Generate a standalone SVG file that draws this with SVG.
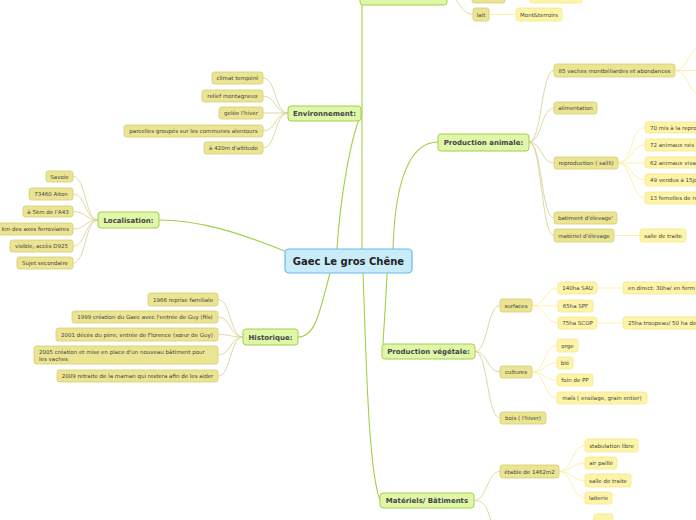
<svg xmlns="http://www.w3.org/2000/svg" width="696" height="520" viewBox="0 0 696 520">
<style>
text{font-family:"DejaVu Sans","Liberation Sans",sans-serif;fill:#444;}
.t2{font-size:5.5px;text-anchor:middle;}
.t2l{font-size:5.5px;}
.tm{font-size:7px;font-weight:bold;text-anchor:middle;}
.tc{font-size:10px;font-weight:bold;text-anchor:middle;fill:#222;}
.c{fill:#c9ecfb;stroke:#62bde9;stroke-width:1.2;}
.m{fill:#e0f7aa;stroke:#a2d048;stroke-width:1;}
.l2{fill:#ebe493;stroke:#d5cd72;stroke-width:0.8;}
.l3{fill:#fdf4a8;stroke:#f5e78c;stroke-width:0.8;}
.e1{fill:none;stroke:#a3cf45;stroke-width:1.1;}
.e2{fill:none;stroke:#d9d49c;stroke-width:0.9;}
.e3{fill:none;stroke:#faefa2;stroke-width:0.9;}
</style>
<g id="connectors">
<path class="e1" d="M337,249 C340,200 350,140 361,114"/>
<path class="e1" d="M362,249 C362,180 362,60 362,0"/>
<path class="e1" d="M393,249 C395,180 410,142 438,142"/>
<path class="e1" d="M287,252 C240,233 200,220 159,220"/>
<path class="e1" d="M330,273 C320,310 316,337 298,337"/>
<path class="e1" d="M387,273 C386,300 384,325 383,344"/>
<path class="e1" d="M363,273 C366,350 368,470 380,500"/>
<g class="e2">
<path d="M288,113 C275,113 276,78 263,78"/><path d="M288,113 C275,113 276,96 263,96"/><path d="M288,113 L263,113"/><path d="M288,113 C275,113 276,131 263,131"/><path d="M288,113 C275,113 276,148 263,148"/>
<path d="M98,220 C85,220 86,176.5 73,176.5"/><path d="M98,220 C85,220 86,194 73,194"/><path d="M98,220 C85,220 86,211.5 73,211.5"/><path d="M98,220 C85,220 86,229 73,229"/><path d="M98,220 C85,220 86,246 73,246"/><path d="M98,220 C85,220 86,263 73,263"/>
<path d="M243,337 C230,337 231,299.5 218,299.5"/><path d="M243,337 C230,337 231,317 218,317"/><path d="M243,337 C230,337 231,334.5 218,334.5"/><path d="M243,337 C230,337 231,355 218,355"/><path d="M243,337 C230,337 231,376 218,376"/>
<path d="M529,142 C542,142 541,70.5 554,70.5"/><path d="M529,142 C542,142 541,108 554,108"/><path d="M529,142 C542,142 541,163 554,163"/><path d="M529,142 C542,142 541,218 554,218"/><path d="M529,142 C542,142 541,235.5 554,235.5"/>
<path d="M475,351.5 C488,351.5 487,305.5 500,305.5"/><path d="M475,351.5 C488,351.5 487,372 500,372"/><path d="M475,351.5 C488,351.5 487,418 500,418"/>
<path d="M474,500.5 C487,500.5 487,471.5 500,471.5"/><path d="M474,500.5 C487,500.5 488,512 492,525"/>
<path d="M447,-4 C460,-4 460,14.5 473,14.5"/>
</g>
<g class="e3">
<path d="M618,163 C632,163 631,127.5 645,127.5"/><path d="M618,163 C632,163 631,145 645,145"/><path d="M618,163 L645,163"/><path d="M618,163 C632,163 631,180 645,180"/><path d="M618,163 C632,163 631,198 645,198"/>
<path d="M614,235.5 L640,235.5"/>
<path d="M675,70.5 C688,70.5 688,50 698,48"/><path d="M675,70.5 L698,70.5"/><path d="M675,70.5 C688,70.5 688,92 698,94"/>
<path d="M532,305.5 C545,305.5 545,288 558,288"/><path d="M532,305.5 C545,305.5 545,306 558,306"/><path d="M532,305.5 C545,305.5 545,323 558,323"/>
<path d="M597,288 L623,288"/><path d="M597,323 L623,323"/>
<path d="M532,372 C545,372 544,345.5 557,345.5"/><path d="M532,372 C545,372 544,363 557,363"/><path d="M532,372 C545,372 544,380 557,380"/><path d="M532,372 C545,372 544,398 557,398"/>
<path d="M559,471.5 C572,471.5 572,445.5 585,445.5"/><path d="M559,471.5 C572,471.5 572,463 585,463"/><path d="M559,471.5 C572,471.5 572,480.5 585,480.5"/><path d="M559,471.5 C572,471.5 572,498 585,498"/>
<path d="M489,14.5 L516,14.5"/><path d="M505,-3.5 L530,-3.5"/>
</g>
</g>
<g id="center"><rect class="c" x="285" y="249" width="127" height="24" rx="4"/><text class="tc" x="348.5" y="265">Gaec Le gros Chêne</text></g>
<g id="top-main"><rect class="m" x="360" y="-12" width="87" height="17" rx="3"/></g>
<g id="top-l2"><rect class="l2" x="472" y="-10" width="33" height="13" rx="2.5"/></g>
<g id="top-l3"><rect class="l3" x="530" y="-10" width="52" height="13" rx="2.5"/></g>
<g id="lait"><rect class="l2" x="473" y="8" width="16" height="13" rx="2.5"/><text class="t2" x="481" y="16.5">lait</text></g>
<g id="montterroirs"><rect class="l3" x="516" y="8" width="46" height="13" rx="2.5"/><text class="t2" x="539" y="16.5">Mont&amp;terroirs</text></g>
<g id="environnement"><rect class="m" x="288" y="106" width="73" height="15" rx="3"/><text class="tm" x="324.5" y="116">Environnement:</text></g>
<g id="climat"><rect class="l2" x="212" y="72" width="51" height="12" rx="2.5"/><text class="t2" x="237.5" y="80">climat tempéré</text></g>
<g id="relief"><rect class="l2" x="202" y="90" width="61" height="12" rx="2.5"/><text class="t2" x="232.5" y="98">relief montagneux</text></g>
<g id="gelee"><rect class="l2" x="219" y="107" width="44" height="12" rx="2.5"/><text class="t2" x="241" y="115">gelée l'hiver</text></g>
<g id="parcelles"><rect class="l2" x="124" y="125" width="139" height="12" rx="2.5"/><text class="t2" x="193.5" y="133">parcelles groupés sur les communes alentours</text></g>
<g id="altitude"><rect class="l2" x="204" y="142" width="59" height="12" rx="2.5"/><text class="t2" x="233.5" y="150">à 420m d'altitude</text></g>
<g id="localisation"><rect class="m" x="98" y="212" width="61" height="16" rx="3"/><text class="tm" x="128.5" y="222.5">Localisation:</text></g>
<g id="savoie"><rect class="l2" x="46" y="171" width="27" height="11" rx="2.5"/><text class="t2" x="59.5" y="178.5">Savoie</text></g>
<g id="aiton"><rect class="l2" x="29" y="188" width="44" height="12" rx="2.5"/><text class="t2" x="51" y="196">73460 Aiton</text></g>
<g id="a43"><rect class="l2" x="23" y="206" width="50" height="11" rx="2.5"/><text class="t2" x="48" y="213.5">à 5km de l'A43</text></g>
<g id="ferroviaires"><rect class="l2" x="-10" y="223" width="83" height="12" rx="2.5"/><text class="t2l" x="69" y="231" text-anchor="end">km des axes ferroviaires</text></g>
<g id="visible"><rect class="l2" x="10" y="240" width="63" height="12" rx="2.5"/><text class="t2" x="41.5" y="248">visible, accès D925</text></g>
<g id="sujet"><rect class="l2" x="17" y="257" width="56" height="12" rx="2.5"/><text class="t2" x="45" y="265">Sujet secondaire</text></g>
<g id="historique"><rect class="m" x="243" y="329" width="55" height="16" rx="3"/><text class="tm" x="270.5" y="339.5">Historique:</text></g>
<g id="h1966"><rect class="l2" x="148" y="293" width="70" height="13" rx="2.5"/><text class="t2" x="183" y="301.5">1966 reprise familiale</text></g>
<g id="h1999"><rect class="l2" x="72" y="311" width="146" height="12" rx="2.5"/><text class="t2" x="145" y="319">1999 création du Gaec avec l'entrée de Guy (fils)</text></g>
<g id="h2001"><rect class="l2" x="56" y="328" width="162" height="13" rx="2.5"/><text class="t2" x="137" y="336.5">2001 décès du père; entrée de Florence (sœur de Guy)</text></g>
<g id="h2005"><rect class="l2" x="34" y="346" width="184" height="18" rx="2.5"/><text class="t2l" x="39" y="354">2005 création et mise en place d'un nouveau bâtiment pour</text><text class="t2l" x="39" y="361">les vaches</text></g>
<g id="h2009"><rect class="l2" x="57" y="370" width="161" height="12" rx="2.5"/><text class="t2" x="137.5" y="378">2009 retraite de la maman qui restera afin de les aider</text></g>
<g id="prodanimale"><rect class="m" x="438" y="134" width="91" height="17" rx="3"/><text class="tm" x="483.5" y="145">Production animale:</text></g>
<g id="vaches"><rect class="l2" x="554" y="64" width="121" height="13" rx="2.5"/><text class="t2" x="614.5" y="72.5">85 vaches montbéliardes et abondances</text></g>
<g id="alimentation"><rect class="l2" x="554" y="102" width="43" height="12" rx="2.5"/><text class="t2" x="575.5" y="110">alimentation</text></g>
<g id="reproduction"><rect class="l2" x="554" y="157" width="64" height="12" rx="2.5"/><text class="t2" x="586" y="165">reproduction ( sailli)</text></g>
<g id="r70"><rect class="l3" x="645" y="122" width="60" height="11" rx="2.5"/><text class="t2l" x="650" y="129.5">70 mis à la repro</text></g>
<g id="r72"><rect class="l3" x="645" y="139" width="60" height="12" rx="2.5"/><text class="t2l" x="650" y="147">72 animaux nés</text></g>
<g id="r62"><rect class="l3" x="645" y="157" width="60" height="11" rx="2.5"/><text class="t2l" x="650" y="164.5">62 animaux vivan</text></g>
<g id="r49"><rect class="l3" x="645" y="174" width="60" height="12" rx="2.5"/><text class="t2l" x="650" y="182">49 vendus à 15jo</text></g>
<g id="r13"><rect class="l3" x="645" y="192" width="60" height="12" rx="2.5"/><text class="t2l" x="650" y="200">13 femelles de re</text></g>
<g id="batiment"><rect class="l2" x="554" y="212" width="63" height="12" rx="2.5"/><text class="t2" x="585.5" y="220">batiment d'élevage'</text></g>
<g id="materiel"><rect class="l2" x="554" y="229" width="60" height="13" rx="2.5"/><text class="t2" x="584" y="237.5">matériel d'élevage</text></g>
<g id="salletraite1"><rect class="l3" x="640" y="229" width="46" height="13" rx="2.5"/><text class="t2" x="663" y="237.5">salle de traite</text></g>
<g id="prodvegetale"><rect class="m" x="382" y="344" width="93" height="15" rx="3"/><text class="tm" x="428.5" y="354">Production végétale:</text></g>
<g id="surfaces"><rect class="l2" x="500" y="299" width="32" height="13" rx="2.5"/><text class="t2" x="516" y="307.5">surfaces</text></g>
<g id="sau"><rect class="l3" x="558" y="282" width="39" height="12" rx="2.5"/><text class="t2" x="577.5" y="290">140ha SAU</text></g>
<g id="direct"><rect class="l3" x="623" y="282" width="80" height="12" rx="2.5"/><text class="t2l" x="628" y="290">en direct: 30ha/ en ferm</text></g>
<g id="spf"><rect class="l3" x="558" y="300" width="35" height="12" rx="2.5"/><text class="t2" x="575.5" y="308">65ha SPF</text></g>
<g id="scop"><rect class="l3" x="558" y="317" width="39" height="12" rx="2.5"/><text class="t2" x="577.5" y="325">75ha SCOP</text></g>
<g id="troupeau"><rect class="l3" x="623" y="317" width="80" height="12" rx="2.5"/><text class="t2l" x="628" y="325">25ha troupeau/ 50 ha de</text></g>
<g id="cultures"><rect class="l2" x="500" y="366" width="32" height="12" rx="2.5"/><text class="t2" x="516" y="374">cultures</text></g>
<g id="orge"><rect class="l3" x="557" y="339" width="21" height="13" rx="2.5"/><text class="t2" x="567.5" y="347.5">orge</text></g>
<g id="ble"><rect class="l3" x="557" y="357" width="16" height="12" rx="2.5"/><text class="t2" x="565" y="365">blé</text></g>
<g id="foin"><rect class="l3" x="557" y="374" width="36" height="12" rx="2.5"/><text class="t2" x="575" y="382">foin de PP</text></g>
<g id="mais"><rect class="l3" x="557" y="392" width="90" height="12" rx="2.5"/><text class="t2" x="602" y="400">maïs ( ensilage, grain entier)</text></g>
<g id="bois"><rect class="l2" x="500" y="412" width="46" height="12" rx="2.5"/><text class="t2" x="523" y="420">bois ( l'hiver)</text></g>
<g id="materiels"><rect class="m" x="380" y="493" width="94" height="15" rx="3"/><text class="tm" x="427" y="503">Matériels/ Bâtiments</text></g>
<g id="etable"><rect class="l2" x="500" y="465" width="59" height="13" rx="2.5"/><text class="t2" x="529.5" y="473.5">étable de 1462m2</text></g>
<g id="stabulation"><rect class="l3" x="585" y="439" width="53" height="13" rx="2.5"/><text class="t2" x="611.5" y="447.5">stabulation libre</text></g>
<g id="airpaille"><rect class="l3" x="585" y="457" width="32" height="12" rx="2.5"/><text class="t2" x="601" y="465">air paillé</text></g>
<g id="salletraite2"><rect class="l3" x="585" y="474" width="46" height="13" rx="2.5"/><text class="t2" x="608" y="482.5">salle de traite</text></g>
<g id="laiterie"><rect class="l3" x="585" y="492" width="27" height="12" rx="2.5"/><text class="t2" x="598.5" y="500">laiterie</text></g>
<g id="bottom-partial"><rect class="l3" x="594" y="514" width="19" height="12" rx="2.5"/></g>
</svg>
